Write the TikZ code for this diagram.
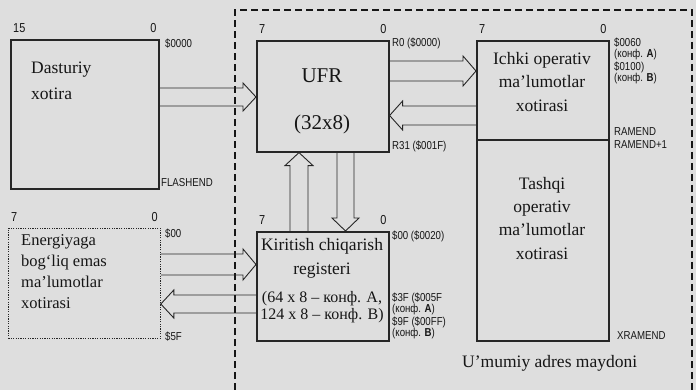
\documentclass[tikz,border=0pt]{standalone}
\usepackage{fontspec}
\setmainfont{Liberation Serif}
\setsansfont{Liberation Sans}
\newfontfamily\schmal[FakeStretch=0.84]{Liberation Sans}
\usetikzlibrary{calc}
\definecolor{grund}{HTML}{DEDEDE}
\definecolor{tinte}{HTML}{161616}
\definecolor{linie}{HTML}{262626}
\newcommand\blockf{\fontsize{17.5}{21}\selectfont}
\newcommand\kleinf{\schmal\fontsize{11.5}{12}\selectfont}
% Textzeile im Block: #1 Name, #2 x, #3 Grundlinie, #4 Text
\newcommand\zeile[4]{\node[anchor=base,inner sep=0,font=\blockf,text=tinte] (#1) at (#2,#3) {#4};}
\newcommand\zeilel[4]{\node[anchor=base west,inner sep=0,font=\blockf,text=tinte] (#1) at (#2,#3) {#4};}
% Adresse rechts neben einem Block
\newcommand\adr[4]{\node[anchor=west,inner sep=0,font=\kleinf,text=tinte] (#1) at (#2,#3) {#4};}
% Bitnummern über einem Block
\newcommand\bitnr[3]{\node[anchor=south west,inner sep=0,font=\schmal\fontsize{13}{13}\selectfont,text=tinte] (#1hi)
  at ([xshift=3pt,yshift=6pt]#1.north west) {#2};%
  \node[anchor=south east,inner sep=0,font=\schmal\fontsize{13}{13}\selectfont,text=tinte] (#1lo)
  at ([xshift=-3pt,yshift=6pt]#1.north east) {#3};}
% Hohlpfeil aus zwei Linien: #2 Anfang, #3 Spitze, #1 halber Linienabstand
\newcommand\hohlpfeil[3][9]{\coordinate (hk) at ($(#3)!13pt!(#2)$);%
  \draw[flussrand] ($(#2)!#1pt!90:(#3)$) -- ($(hk)!#1pt!90:(#3)$) -- ($(hk)!#1pt+5pt!90:(#3)$)
  -- (#3) -- ($(hk)!#1pt+5pt!-90:(#3)$) -- ($(hk)!#1pt!-90:(#3)$) -- ($(#2)!#1pt!-90:(#3)$);}

\begin{document}
\begin{tikzpicture}[x=1pt,y=-1pt]
\useasboundingbox (0,0) rectangle (696,390);
\tikzset{block/.style={draw=linie,line width=1.6pt,inner sep=0,anchor=north west},
  flussrand/.style={linie,line width=0.9pt,line join=miter},
  rahmen/.style={tinte,line width=1.4pt,dash pattern=on 7pt off 4pt}}
\fill[grund] (0,0) rectangle (696,390);

% ---- Gemeinsamer Adressraum, unten offen
\draw[rahmen] (235,390) -- (235,10) -- (692,10) -- (692,390);
\node[anchor=base west,inner sep=0,font=\blockf,text=tinte] (raum) at (462,367) {U’mumiy adres maydoni};

% ---- Dasturiy xotira ---------------------------------------------------------
\node[block,minimum width=148pt,minimum height=149pt] (dast) at (10,39) {};
\bitnr{dast}{15}{0}
\zeilel{dast1}{31}{74}{Dasturiy}
\zeilel{dast2}{31}{100}{xotira}
\adr{a1}{165}{44}{\$0000}
\adr{a2}{161}{183}{FLASHEND}

% ---- UFR ---------------------------------------------------------------------
\node[block,minimum width=132pt,minimum height=111pt] (ufr) at (256,40) {};
\bitnr{ufr}{7}{0}
\node[anchor=base,inner sep=0,font=\fontsize{21}{24}\selectfont,text=tinte] (ufr1) at (322,83) {UFR};
\node[anchor=base,inner sep=0,font=\fontsize{21}{24}\selectfont,text=tinte] (ufr2) at (322,130) {(32x8)};
\adr{a3}{392}{43}{R0 (\$0000)}
\adr{a4}{392}{146}{R31 (\$001F)}

% ---- Ichki und Tashqi operativ xotira ----------------------------------------
\node[block,minimum width=132pt,minimum height=99pt] (ichki) at (476,40) {};
\node[block,minimum width=132pt,minimum height=201pt] (tashqi) at (476,139) {};
\bitnr{ichki}{7}{0}
\foreach \y/\k [count=\i] in {65/Ichki operativ,88/ma’lumotlar,112/xotirasi}
  {\zeile{ichki\i}{542}{\y}{\k}}
\foreach \y/\k [count=\i] in {190/Tashqi,213/operativ,236/ma’lumotlar,259/xotirasi}
  {\zeile{tashqi\i}{542}{\y}{\k}}
\foreach \y/\k [count=\i] in {43/\$0060,55/(конф. {\bfseries A}),67/\$0100),79/(конф. {\bfseries B}),
  132/RAMEND,145/RAMEND+1} {\adr{ra\i}{614}{\y}{\k}}
\adr{a5}{617}{336}{XRAMEND}

% ---- Kiritish chiqarish registeri --------------------------------------------
\node[block,minimum width=132pt,minimum height=109pt] (kir) at (256,231) {};
\bitnr{kir}{7}{0}
\zeile{kir1}{322}{251}{Kiritish chiqarish}
\zeile{kir2}{322}{274}{registeri}
\node[anchor=base,inner sep=0,font=\fontsize{16}{18}\selectfont,text=tinte] (kir3) at (322,302) {(64 x 8 – конф. A,};
\node[anchor=base,inner sep=0,font=\fontsize{16}{18}\selectfont,text=tinte] (kir4) at (322,319) {124 x 8 – конф. B)};
\foreach \y/\k [count=\i] in {236/\$00 (\$0020),298/\$3F (\$005F,310/(конф. {\bfseries A}),
  322/\$9F (\$00FF),334/(конф. {\bfseries B})} {\adr{rk\i}{392}{\y}{\k}}

% ---- Energiyaga bog'liq emas xotira (punktierter Rand)
\node[block,line width=0.8pt,dash pattern=on 1.2pt off 1.2pt,minimum width=152pt,minimum height=110pt] (energ) at (8,228) {};
\bitnr{energ}{7}{0}
\foreach \y/\k [count=\i] in {245/Energiyaga,266/bog‘liq emas,287/ma’lumotlar,308/xotirasi}
  {\node[anchor=base west,inner sep=0,font=\fontsize{16.5}{19}\selectfont,text=tinte] (energ\i) at (21,\y) {\k};}
\adr{a6}{165}{234}{\$00}
\adr{a7}{165}{337}{\$5F}

% ---- Datenwege als Hohlpfeile ------------------------------------------------
\hohlpfeil{dast.east |- 0,97}{ufr.west |- 0,97}
\hohlpfeil[10]{ufr.east |- 0,71}{ichki.west |- 0,71}
\hohlpfeil[9.5]{ichki.west |- 0,115.5}{ufr.east |- 0,115.5}
\hohlpfeil{kir.north -| 299,0}{ufr.south -| 299,0}
\hohlpfeil[8.5]{ufr.south -| 345.5,0}{kir.north -| 345.5,0}
\hohlpfeil[10.5]{energ.east |- 0,264.5}{kir.west |- 0,264.5}
\hohlpfeil{kir.west |- 0,304}{energ.east |- 0,304}
\end{tikzpicture}
\end{document}
